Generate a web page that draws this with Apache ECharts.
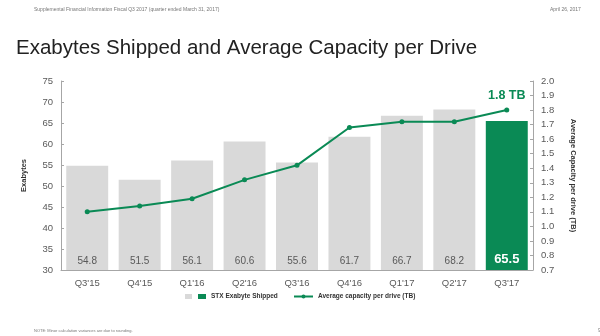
<!DOCTYPE html>
<html><head><meta charset="utf-8">
<script src="https://cdn.jsdelivr.net/npm/echarts@6/dist/echarts.min.js"></script>
<style>html,body{margin:0;padding:0;background:#fff}#c{width:600px;height:336px}</style>
</head><body><div id="c"></div>
<script>
const categories = ["Q3'15","Q4'15","Q1'16","Q2'16","Q3'16","Q4'16","Q1'17","Q2'17","Q3'17"];
const exabytes = [54.8, 51.5, 56.1, 60.6, 55.6, 61.7, 66.7, 68.2, 65.5];
const capacity = [1.10, 1.14, 1.19, 1.32, 1.42, 1.68, 1.72, 1.72, 1.80];
const leftTicks = {min: 30, max: 75, interval: 5};
const rightTicks = {min: 0.7, max: 2.0, interval: 0.1};

const GREEN = '#0a8a55', GRAY = '#d9d9d9', TXT = '#595959';
const chart = echarts.init(document.getElementById('c'));
const last = categories.length - 1;
const legendText = {fontSize: 6.5, fontWeight: 'bold', color: '#333'};
chart.setOption({
  animation: false,
  textStyle: {fontFamily: 'Liberation Sans, Arial, sans-serif'},
  grid: {left: 61, right: 67, top: 81, bottom: 66},
  title: [
    {text: 'Exabytes Shipped and Average Capacity per Drive', left: 11, top: 33,
     textStyle: {fontSize: 20.5, fontWeight: 'normal', color: '#222'}},
    {text: 'Supplemental Financial Information Fiscal Q3 2017 (quarter ended March 31, 2017)', left: 29, top: 2,
     textStyle: {fontSize: 5, fontWeight: 'normal', color: '#777'}},
    {text: 'April 26, 2017', left: 545, top: 2,
     textStyle: {fontSize: 5, fontWeight: 'normal', color: '#777'}},
    {text: 'NOTE: Minor calculation variances are due to rounding.', left: 29, top: 324,
     textStyle: {fontSize: 4, fontWeight: 'normal', color: '#777'}},
    {text: '9', left: 593, top: 323, textStyle: {fontSize: 5, fontWeight: 'normal', color: '#777'}}
  ],
  legend: [
    {bottom: 31, left: 193, itemWidth: 8, itemHeight: 5, itemGap: 3, textStyle: legendText,
     data: [{name: 'STX Exabyte Shipped', icon: 'rect', itemStyle: {color: GREEN}}]},
    {bottom: 31, left: 288, itemWidth: 19, itemHeight: 5, textStyle: legendText,
     data: [{name: 'Average capacity per drive (TB)'}]}
  ],
  xAxis: {
    type: 'category', data: categories,
    axisLine: {lineStyle: {color: '#a6a6a6'}}, axisTick: {show: false},
    axisLabel: {color: TXT, fontSize: 9.5, margin: 8}
  },
  yAxis: [
    {type: 'value', ...leftTicks, name: 'Exabytes', nameLocation: 'middle', nameRotate: 90, nameGap: 33,
     nameTextStyle: {fontSize: 7.5, fontWeight: 'bold', color: '#333'},
     axisLine: {show: true, lineStyle: {color: '#a6a6a6'}},
     axisTick: {show: true, inside: true, length: 3, lineStyle: {color: '#a6a6a6'}},
     axisLabel: {color: TXT, fontSize: 9.5, margin: 8}, splitLine: {show: false}},
    {type: 'value', ...rightTicks, position: 'right', name: 'Average Capacity per drive (TB)',
     nameLocation: 'middle', nameRotate: -90, nameGap: 36,
     nameTextStyle: {fontSize: 7.5, fontWeight: 'bold', color: '#333'},
     axisLine: {show: true, lineStyle: {color: '#a6a6a6'}},
     axisTick: {show: true, inside: true, length: 3, lineStyle: {color: '#a6a6a6'}},
     axisLabel: {color: TXT, fontSize: 9.5, margin: 8, formatter: v => v.toFixed(1)},
     splitLine: {show: false}}
  ],
  series: [
    {name: 'STX Exabyte Shipped', type: 'bar', barWidth: '80%',
     data: exabytes.map((v, i) => i === last ? {value: v, itemStyle: {color: GREEN},
        label: {color: '#fff', fontWeight: 'bold', fontSize: 13}} : v),
     itemStyle: {color: GRAY},
     label: {show: true, position: 'insideBottom', distance: 4, color: TXT, fontSize: 10,
             formatter: p => p.value.toFixed(1)}},
    {name: 'Average capacity per drive (TB)', type: 'line', yAxisIndex: 1,
     data: capacity.map((v, i) => i === last ? {value: v, label: {show: true, position: 'top',
        distance: 6, formatter: '1.8 TB', color: GREEN, fontWeight: 'bold', fontSize: 12.5}} : v),
     color: GREEN, lineStyle: {width: 2, color: GREEN}, symbol: 'circle', symbolSize: 5,
     itemStyle: {color: GREEN}}
  ],
  graphic: []
});
setTimeout(() => {
  const model = chart.getModel().getComponent('legend', 0);
  const view = chart.getViewOfComponentModel(model);
  const g = view && view.group;
  if (g) {
    const r = g.getBoundingRect();
    chart.setOption({graphic: [{type: 'rect', left: g.x + r.x - 8, top: g.y + r.y + r.height / 2 - 2.5,
      shape: {width: 7, height: 5}, style: {fill: GRAY}}]});
  }
}, 0);
</script></body></html>
